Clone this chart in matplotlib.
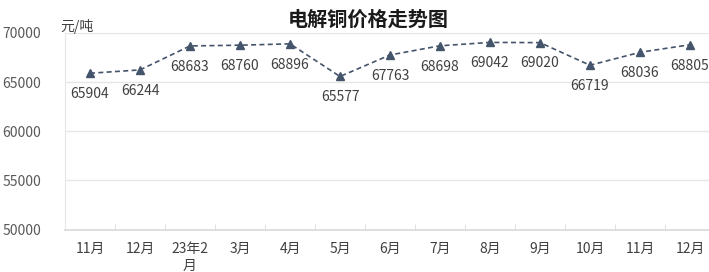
import matplotlib

matplotlib.use("Agg")
import matplotlib.pyplot as plt

plt.rcParams["font.family"] = ["Noto Sans CJK SC", "DejaVu Sans"]

months = ["11月", "12月", "23年2\n月", "3月", "4月", "5月", "6月", "7月", "8月", "9月", "10月", "11月", "12月"]
prices = [65904, 66244, 68683, 68760, 68896, 65577, 67763, 68698, 69042, 69020, 66719, 68036, 68805]
y_ticks = [50000, 55000, 60000, 65000, 70000]

W, H = 709, 272
fig = plt.figure(figsize=(W / 100, H / 100), dpi=100)
ax = fig.add_axes([65 / W, (H - 229.5) / H, 650 / W, (229.5 - 33) / H])

x = list(range(len(months)))
ax.plot(x, prices, color="#44546A", linestyle=(0, (3, 2)), linewidth=1.2,
        marker="^", markersize=6, markerfacecolor="#44546A", markeredgecolor="#44546A")
for xi, p in zip(x, prices):
    ax.annotate(f"{p}", (xi, p), xytext=(0, -15), textcoords="offset points",
                ha="center", va="center", fontsize=10, color="#404040")

ax.set_xlim(-0.5, len(months) - 0.5)
ax.set_ylim(50000, 70000)
ax.set_yticks(y_ticks)
ax.set_yticklabels([str(v) for v in y_ticks], color="#595959", fontsize=10)
ax.set_xticks(x)
ax.set_xticklabels(months, fontsize=10, color="#404040", linespacing=1.3, va="top")
ax.set_xticks([i + 0.5 for i in x], minor=True)
ax.tick_params(axis="x", which="major", length=0, pad=9)
ax.tick_params(axis="x", which="minor", length=4, color="#D9D9D9", direction="in")
ax.tick_params(axis="y", length=0, pad=17)
ax.grid(axis="y", color="#E6E6E6", linewidth=1)
ax.set_axisbelow(True)
for side in ("top", "right"):
    ax.spines[side].set_visible(False)
ax.spines["left"].set_color("#E6E6E6")
ax.spines["bottom"].set_color("#D9D9D9")
ax.spines["bottom"].set_linewidth(1.2)

fig.text(368 / W, 1 - 19 / H, "电解铜价格走势图", ha="center", va="center",
         fontsize=14.5, fontweight="bold", color="#1a1a1a")
fig.text(60 / W, 1 - 26 / H, "元/吨", ha="left", va="center", fontsize=10, color="#404040")

fig.savefig("out.png", dpi=100)
